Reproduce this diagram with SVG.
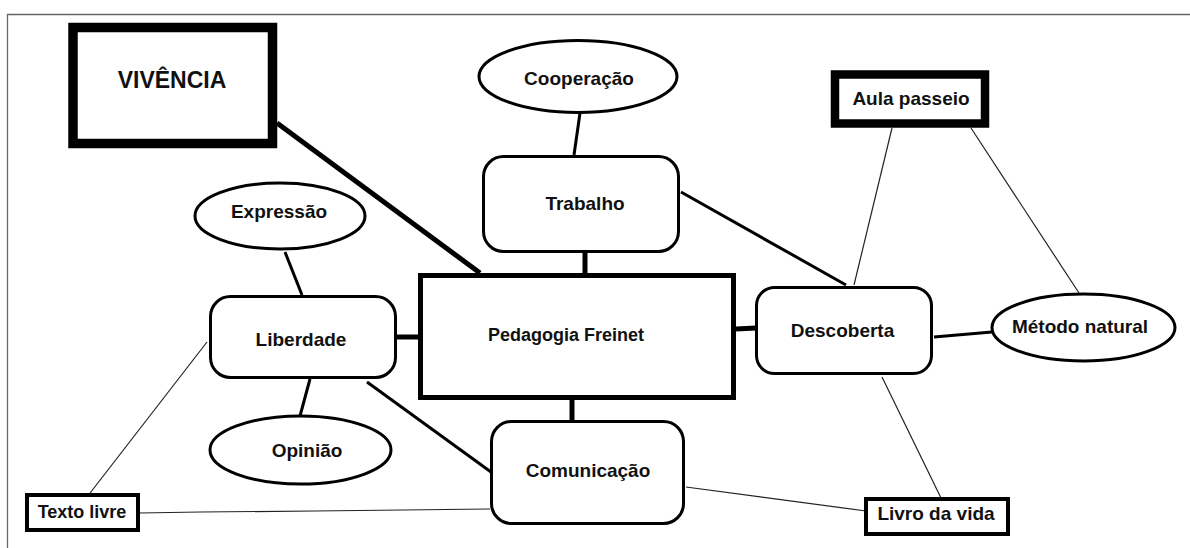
<svg xmlns="http://www.w3.org/2000/svg" width="1190" height="548" viewBox="0 0 1190 548">
  <style>
    .lbl { font-family: "Liberation Sans", Arial, sans-serif; font-weight: bold; font-size: 19px; fill: #111; text-anchor: middle; }
    .round { fill: #fff; stroke: #000; stroke-width: 3; }
    .oval { fill: #fff; stroke: #000; stroke-width: 3; }
    .box { fill: #fff; stroke: #000; }
    .thick { stroke: #000; stroke-width: 5; fill: none; }
    .mid { stroke: #000; stroke-width: 3; fill: none; }
    .thin { stroke: #222; stroke-width: 1.2; fill: none; }
  </style>
  <rect width="1190" height="548" fill="#fff"/>

  <!-- page frame -->
  <path d="M7.5 548 V14.5 H1190" fill="none" stroke="#666" stroke-width="1.3"/>

  <!-- connectors -->
  <g id="connectors" stroke-linecap="butt">
    <line class="thick" x1="277" y1="123" x2="480" y2="273"/>
    <line class="mid" x1="580" y1="113" x2="574" y2="155"/>
    <line class="thick" x1="585" y1="253" x2="585" y2="273"/>
    <line class="mid" x1="681" y1="192" x2="846" y2="285"/>
    <line class="thick" x1="736" y1="329" x2="756" y2="328"/>
    <line class="mid" x1="934" y1="337" x2="992" y2="332"/>
    <line class="thin" x1="892" y1="128" x2="854" y2="285"/>
    <line class="thin" x1="971" y1="128" x2="1079" y2="293"/>
    <line class="thin" x1="882" y1="377" x2="941" y2="498"/>
    <line class="thin" x1="686" y1="487" x2="866" y2="511"/>
    <line class="thick" x1="572" y1="400" x2="572" y2="420"/>
    <line class="thick" x1="397" y1="337" x2="419" y2="337"/>
    <line class="mid" x1="285" y1="252" x2="302" y2="295"/>
    <line class="mid" x1="310" y1="379" x2="300" y2="416"/>
    <line class="mid" x1="367" y1="382" x2="491" y2="472"/>
    <line class="thin" x1="207" y1="342" x2="87" y2="497"/>
    <polyline class="thin" points="140,513 200,512 315,511 490,509"/>
  </g>

  <g id="vivencia">
    <rect class="box" x="73" y="27.5" width="199.5" height="116" stroke-width="9.5"/>
    <text class="lbl" x="172" y="88" style="font-size:23px">VIVÊNCIA</text>
  </g>

  <g id="cooperacao">
    <ellipse class="oval" cx="578" cy="76.5" rx="99" ry="36"/>
    <text class="lbl" x="579" y="85">Cooperação</text>
  </g>

  <g id="trabalho">
    <rect class="round" x="483.5" y="156.5" width="195" height="95" rx="20"/>
    <text class="lbl" x="585" y="210">Trabalho</text>
  </g>

  <g id="aula-passeio">
    <rect class="box" x="835" y="74.5" width="150" height="49" stroke-width="8.5"/>
    <text class="lbl" x="911" y="105">Aula passeio</text>
  </g>

  <g id="pedagogia-freinet">
    <rect class="box" x="420.5" y="275.5" width="313" height="122" stroke-width="5"/>
    <text class="lbl" x="566" y="341" style="font-size:18px">Pedagogia Freinet</text>
  </g>

  <g id="descoberta">
    <rect class="round" x="756.5" y="287.5" width="175" height="86" rx="18"/>
    <text class="lbl" x="842.5" y="337">Descoberta</text>
  </g>

  <g id="metodo-natural">
    <ellipse class="oval" cx="1083.5" cy="327.5" rx="91.5" ry="33.5"/>
    <text class="lbl" x="1080" y="333">Método natural</text>
  </g>

  <g id="expressao">
    <ellipse class="oval" cx="280" cy="216" rx="85" ry="33"/>
    <text class="lbl" x="279" y="218">Expressão</text>
  </g>

  <g id="liberdade">
    <rect class="round" x="210.5" y="296.5" width="185" height="81" rx="20"/>
    <text class="lbl" x="301" y="346">Liberdade</text>
  </g>

  <g id="opiniao">
    <ellipse class="oval" cx="300.5" cy="450" rx="90.5" ry="34"/>
    <text class="lbl" x="307" y="457">Opinião</text>
  </g>

  <g id="comunicacao">
    <rect class="round" x="491.5" y="421.5" width="192" height="102" rx="20"/>
    <text class="lbl" x="588" y="477">Comunicação</text>
  </g>

  <g id="texto-livre">
    <rect class="box" x="27" y="495" width="111" height="35" stroke-width="4"/>
    <text class="lbl" x="82" y="518" style="font-size:18px">Texto livre</text>
  </g>

  <g id="livro-da-vida">
    <rect class="box" x="866" y="499" width="142" height="35" stroke-width="4"/>
    <text class="lbl" x="936" y="520">Livro da vida</text>
  </g>
</svg>
